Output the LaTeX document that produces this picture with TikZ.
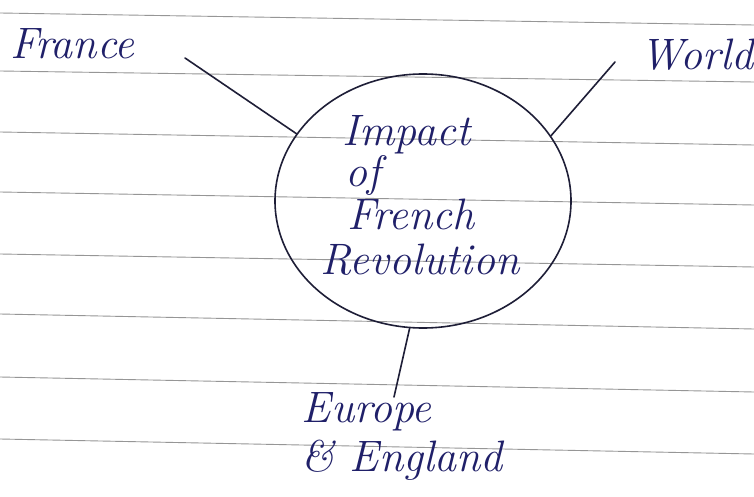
\documentclass[tikz,border=0pt]{standalone}
\usetikzlibrary{shapes.geometric}
\definecolor{ink}{RGB}{32,32,105}
\definecolor{pen}{RGB}{30,30,55}
\definecolor{rule}{RGB}{150,150,150}
\tikzset{
  ruled/.style={draw=rule, line width=0.9pt},
  hand/.style={text=ink, font=\fontsize{44}{47}\selectfont\itshape, inner sep=0pt},
  conn/.style={draw=pen, line width=1.6pt, line cap=round},
  bubble/.style={ellipse, draw=pen, line width=1.6pt, minimum width=296pt, minimum height=254pt, inner sep=0pt}
}
\begin{document}
\begin{tikzpicture}[x=1pt,y=-1pt]
\useasboundingbox (0,0) rectangle (754,497);
\fill[white] (0,0) rectangle (754,497);
% ruled lines
\foreach \a/\b in {13/25, 71/82, 132/145, 192/205, 254/267, 314/329, 377/392, 439/454}
  \draw[ruled] (0,\a) -- (754,\b);
% central bubble
\node[bubble] (imp) at (423,201) {};
\node[hand, align=center] (title) at (420,195) {\hspace*{-0.6em}Impact\\[-6pt]\hspace*{-2.6em}of\\[-4pt]\hspace*{-0.4em}French\\[-2pt]Revolution};
% labels
\node[hand, anchor=west] (france) at (10,44) {France};
\node[hand, anchor=east] (world) at (754,55) {World};
\node[hand, align=center] (europe) at (402,437) {\hspace*{-1.6em}Europe\\[2pt]\& England};
% free ends
\coordinate (fend) at (185,58);
\coordinate (wend) at (615,62);
\coordinate (eend) at (394,397);
% connectors
\draw[conn] (fend) -- (imp.152);
\draw[conn] (wend) -- (imp.27);
\draw[conn] (imp.264) -- (eend);
\end{tikzpicture}
\end{document}
